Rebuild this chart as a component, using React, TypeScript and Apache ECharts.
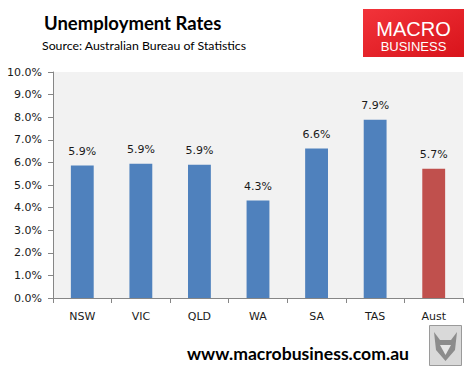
import React, { useEffect, useRef } from "react";
import * as echarts from "echarts";

const categories = ["NSW", "VIC", "QLD", "WA", "SA", "TAS", "Aust"];
const rates = [5.86, 5.94, 5.9, 4.31, 6.61, 7.89, 5.72];
const barColors = ["#4f81bd", "#4f81bd", "#4f81bd", "#4f81bd", "#4f81bd", "#4f81bd", "#c0504d"];
const yMin = 0;
const yMax = 10;
const yStep = 1;

export default function App() {
  const ref = useRef<HTMLDivElement>(null);
  useEffect(() => {
    if (!ref.current) return;
    const chart = echarts.init(ref.current, null, { renderer: "svg" });
    const axisFont = "DejaVu Sans, Verdana, sans-serif";
    chart.setOption({
      animation: false,
      backgroundColor: "#ffffff",
      grid: {
        left: 53,
        right: 11,
        top: 72,
        bottom: 72,
        show: true,
        backgroundColor: "#f2f2f2",
        borderWidth: 0,
      },
      xAxis: {
        type: "category",
        data: categories,
        axisLine: { lineStyle: { color: "#868686", width: 1 } },
        axisTick: { show: true, length: 5, lineStyle: { color: "#868686" } },
        axisLabel: { color: "#1a1a1a", fontSize: 11, fontFamily: axisFont, margin: 13 },
      },
      yAxis: {
        type: "value",
        min: yMin,
        max: yMax,
        interval: yStep,
        axisLine: { show: true, lineStyle: { color: "#868686", width: 1 } },
        axisTick: { show: true, length: 5, lineStyle: { color: "#868686" } },
        splitLine: { show: false },
        axisLabel: {
          color: "#1a1a1a",
          fontSize: 11,
          fontFamily: axisFont,
          margin: 11,
          formatter: (v: number) => v.toFixed(1) + "%",
        },
      },
      series: [
        {
          type: "bar",
          barWidth: "39%",
          data: rates.map((v, i) => ({ value: v, itemStyle: { color: barColors[i] } })),
          label: {
            show: true,
            position: "top",
            distance: 9,
            color: "#1a1a1a",
            fontSize: 11,
            fontFamily: axisFont,
            formatter: (p: any) => p.value.toFixed(1) + "%",
          },
        },
      ],
      graphic: [
        {
          type: "text",
          left: 44,
          top: 13,
          style: {
            text: "Unemployment Rates",
            font: "bold 18.5px Lato, 'Open Sans', sans-serif",
            fill: "#000",
          },
        },
        {
          type: "text",
          left: 42,
          top: 39,
          style: {
            text: "Source: Australian Bureau of Statistics",
            font: "12.3px Lato, 'Open Sans', sans-serif",
            fill: "#000",
          },
        },
        {
          type: "rect",
          shape: { x: 363, y: 9, width: 101, height: 48 },
          style: {
            fill: new echarts.graphic.LinearGradient(0, 0, 1, 1, [
              { offset: 0, color: "#f2333a" },
              { offset: 1, color: "#d8141b" },
            ]),
          },
        },
        {
          type: "text",
          x: 413.5,
          y: 29,
          style: {
            text: "MACRO",
            font: "20px 'Liberation Sans', Arial, sans-serif",
            fill: "#ffffff",
            align: "center",
            verticalAlign: "middle",
          },
        },
        {
          type: "text",
          x: 413.5,
          y: 46,
          style: {
            text: "BUSINESS",
            font: "13px 'Liberation Sans', Arial, sans-serif",
            fill: "#ffffff",
            align: "center",
            verticalAlign: "middle",
          },
        },
        {
          type: "text",
          x: 187,
          y: 353,
          style: {
            text: "www.macrobusiness.com.au",
            font: "bold 17.6px Lato, 'Open Sans', sans-serif",
            fill: "#000",
            verticalAlign: "middle",
          },
        },
        {
          type: "rect",
          shape: { x: 429.5, y: 325.5, width: 32, height: 40 },
          style: { fill: "#d9d9d9", stroke: "#9a9a9a", lineWidth: 1 },
        },
        {
          type: "polygon",
          shape: { points: [[434, 332], [440, 340], [451, 340], [457, 332], [455, 350], [445.5, 361], [436, 350]] },
          style: { fill: "#8c8c8c" },
        },
        {
          type: "polygon",
          shape: { points: [[440, 345], [445.5, 355], [451, 345]] },
          style: { fill: "#e6e6e6" },
        },
      ],
    });
    return () => chart.dispose();
  }, []);
  return <div ref={ref} style={{ width: 474, height: 370, position: "absolute", left: 0, top: 0 }} />;
}
